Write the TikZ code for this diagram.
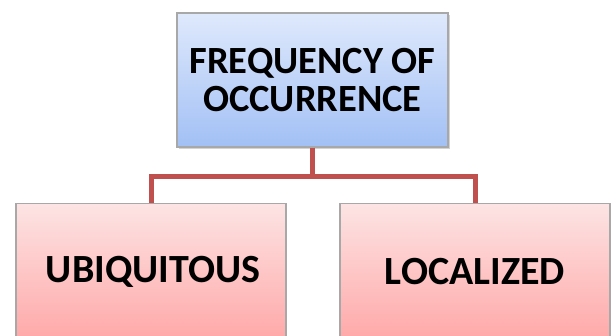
\documentclass[tikz,border=0pt]{standalone}
\usepackage{fontspec}
\setmainfont{Carlito}
\usetikzlibrary{shadows}
\definecolor{linkred}{HTML}{C0504D}
\definecolor{blueTop}{HTML}{DFE9FC}
\definecolor{blueBot}{HTML}{A2C0F5}
\definecolor{pinkTop}{HTML}{FDE4E4}
\definecolor{pinkBot}{HTML}{FFA2A2}
\definecolor{edgegray}{HTML}{A8A8A8}
\tikzset{
  x=1pt, y=1pt,
  topbox/.style={draw=edgegray, line width=1.2pt, top color=blueTop, bottom color=blueBot,
    minimum width=271pt, minimum height=134pt, inner sep=0pt, align=center,
    font=\fontsize{38.5}{38}\selectfont\bfseries,
    drop shadow={shadow xshift=1.5pt, shadow yshift=-2.5pt, opacity=0.35}},
  leafbox/.style={draw=edgegray, line width=1.2pt, top color=pinkTop, bottom color=pinkBot,
    minimum width=270pt, minimum height=150pt, inner sep=0pt},
  leaftext/.style={font=\fontsize{40}{40}\selectfont\bfseries, inner sep=0pt},
  link/.style={draw=linkred, line width=5pt}
}
\begin{document}
\begin{tikzpicture}
\useasboundingbox (0,0) rectangle (616,336);
\clip (0,0) rectangle (616,336);
\node[topbox] (top) at (312.5,256) {FREQUENCY OF\\OCCURRENCE};
\node[leafbox, anchor=north] (ubi) at (151,133) {};
\node[leafbox, anchor=north] (loc) at (475,133) {};
\node[leaftext] (ubit) at (153,64) {UBIQUITOUS};
\node[leaftext] (loct) at (475,64) {LOCALIZED};
\coordinate (mid) at (top.south |- 0,159);
\draw[link] (top.south) -- (mid) -| (ubi.north);
\draw[link] (mid) -| (loc.north);
\end{tikzpicture}
\end{document}
